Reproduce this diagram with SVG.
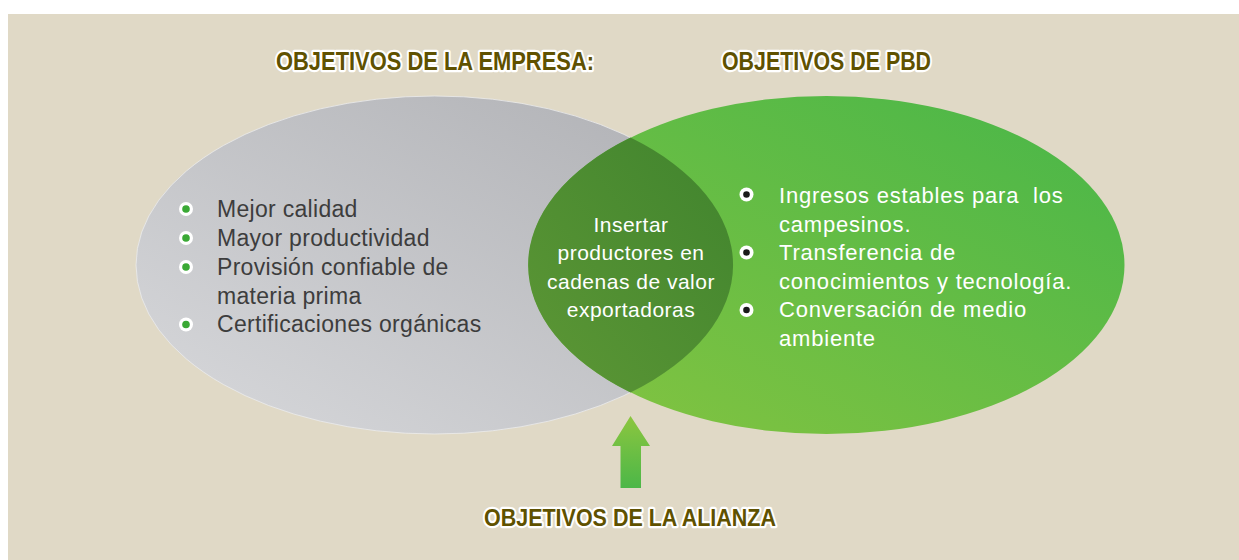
<svg xmlns="http://www.w3.org/2000/svg" width="1239" height="560" viewBox="0 0 1239 560">
  <defs>
    <linearGradient id="gGrey" x1="0" y1="1" x2="1" y2="0">
      <stop offset="0" stop-color="#d8d9dc"/>
      <stop offset="1" stop-color="#afb0b4"/>
    </linearGradient>
    <linearGradient id="gGreen" x1="0" y1="1" x2="1" y2="0">
      <stop offset="0" stop-color="#86c440"/>
      <stop offset="1" stop-color="#47b649"/>
    </linearGradient>
    <linearGradient id="gLens" x1="0" y1="1" x2="1" y2="0">
      <stop offset="0" stop-color="#5d9735"/>
      <stop offset="1" stop-color="#40842e"/>
    </linearGradient>
    <linearGradient id="gArrow" x1="0" y1="0" x2="0" y2="1">
      <stop offset="0" stop-color="#8cc63f"/>
      <stop offset="1" stop-color="#4cb748"/>
    </linearGradient>
    <style>
      .title { font-family: "Liberation Sans", Arial, sans-serif; font-weight: bold; fill: #5f5100; stroke: #ffffff; stroke-width: 4.5; stroke-linejoin: round; paint-order: stroke; }
      .ltxt { font-family: "Liberation Sans", Arial, sans-serif; font-size: 23px; letter-spacing: 0.3px; fill: #3d3d3d; }
      .rtxt { font-family: "Liberation Sans", Arial, sans-serif; font-size: 22px; letter-spacing: 0.8px; fill: #ffffff; white-space: pre; }
      .ctxt { font-family: "Liberation Sans", Arial, sans-serif; font-size: 21px; letter-spacing: 0.5px; fill: #ffffff; text-anchor: middle; }
      .bw { fill: #ffffff; }
      .bg { fill: #3aa935; }
      .bk { fill: #1a1a1a; }
    </style>
  </defs>

  <rect x="0" y="0" width="1239" height="560" fill="#ffffff"/>
  <rect x="8" y="14" width="1231" height="546" fill="#e0d9c6"/>

  <g id="ellipse-empresa">
    <ellipse cx="434.5" cy="265" rx="298.5" ry="169" fill="url(#gGrey)" stroke="#ececec" stroke-width="0.8"/>
  </g>
  <g id="ellipse-pbd">
    <ellipse cx="826.5" cy="265" rx="298" ry="169" fill="url(#gGreen)"/>
  </g>
  <g id="intersection">
    <path d="M630.5,137.5 A298 169 0 0 0 630.5,392.5 A298.5 169 0 0 0 630.5,137.5 Z" fill="url(#gLens)"/>
    <text class="ctxt" x="631" y="231.5">Insertar</text>
    <text class="ctxt" x="631" y="260">productores en</text>
    <text class="ctxt" x="631" y="288.5">cadenas de valor</text>
    <text class="ctxt" x="631" y="317">exportadoras</text>
  </g>

  <g id="list-empresa">
    <circle class="bw" cx="186" cy="209" r="7"/><circle class="bg" cx="186" cy="209" r="3.8"/>
    <circle class="bw" cx="186" cy="238" r="7"/><circle class="bg" cx="186" cy="238" r="3.8"/>
    <circle class="bw" cx="186" cy="267" r="7"/><circle class="bg" cx="186" cy="267" r="3.8"/>
    <circle class="bw" cx="186" cy="324.5" r="7"/><circle class="bg" cx="186" cy="324.5" r="3.8"/>
    <text class="ltxt" x="217" y="217">Mejor calidad</text>
    <text class="ltxt" x="217" y="246">Mayor productividad</text>
    <text class="ltxt" x="217" y="275">Provisión confiable de</text>
    <text class="ltxt" x="217" y="303.5">materia prima</text>
    <text class="ltxt" x="217" y="332">Certificaciones orgánicas</text>
  </g>

  <g id="list-pbd">
    <circle class="bw" cx="746.5" cy="194.5" r="7"/><circle class="bk" cx="746.5" cy="194.5" r="3.3"/>
    <circle class="bw" cx="746.5" cy="252.5" r="7"/><circle class="bk" cx="746.5" cy="252.5" r="3.3"/>
    <circle class="bw" cx="746.5" cy="310" r="7"/><circle class="bk" cx="746.5" cy="310" r="3.3"/>
    <text class="rtxt" x="779" y="203" xml:space="preserve">Ingresos estables para  los</text>
    <text class="rtxt" x="779" y="231.5">campesinos.</text>
    <text class="rtxt" x="779" y="260">Transferencia de</text>
    <text class="rtxt" x="779" y="288.5">conocimientos y tecnología.</text>
    <text class="rtxt" x="779" y="317">Conversación de medio</text>
    <text class="rtxt" x="779" y="346">ambiente</text>
  </g>

  <g id="title-empresa">
    <text class="title" x="276" y="70" font-size="25" textLength="318" lengthAdjust="spacingAndGlyphs">OBJETIVOS DE LA EMPRESA:</text>
  </g>
  <g id="title-pbd">
    <text class="title" x="722" y="70" font-size="25" textLength="209" lengthAdjust="spacingAndGlyphs">OBJETIVOS DE PBD</text>
  </g>
  <g id="title-alianza">
    <text class="title" x="484" y="526" font-size="24" textLength="292" lengthAdjust="spacingAndGlyphs">OBJETIVOS DE LA ALIANZA</text>
  </g>

  <g id="connectors">
    <path d="M630.5,416 L650,446 L641,446 L641,488 L620.5,488 L620.5,446 L612,446 Z" fill="url(#gArrow)"/>
  </g>
</svg>
